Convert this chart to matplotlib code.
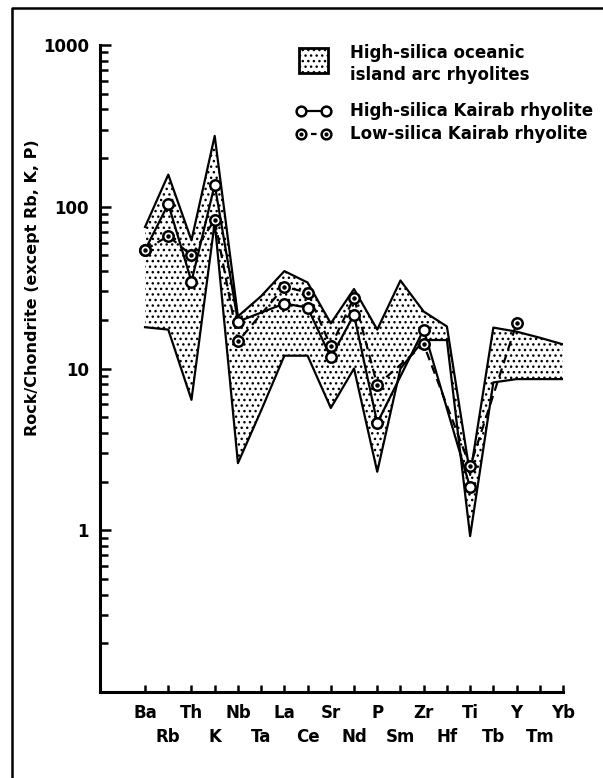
import numpy as np
import matplotlib.pyplot as plt
from matplotlib.lines import Line2D
from matplotlib.patches import Rectangle

plt.rcParams['font.family'] = 'DejaVu Sans'
plt.rcParams['font.weight'] = 'bold'
plt.rcParams['hatch.linewidth'] = 1.0

W, H = 603, 778

elements = ["Ba", "Rb", "Th", "K", "Nb", "Ta", "La", "Ce", "Sr", "Nd",
            "P", "Sm", "Zr", "Hf", "Ti", "Tb", "Y", "Tm", "Yb"]

# envelope of high-silica oceanic island arc rhyolites
arc_upper = [75, 158, 62, 274, 21, 28, 40, 34, 19, 31,
             17.4, 35, 22.5, 18.2, 2.2, 17.9, 16.9, 15.5, 14.1]
arc_lower = [18, 17.4, 6.4, 80, 2.6, 5.5, 12, 12, 5.7, 10,
             2.3, 10, 15, 15, 0.92, 8.2, 8.6, 8.6, 8.6]

# Kairab rhyolites (None = not analysed)
high_si = [54, 104, 34.5, 137, 19.5, None, 25.2, 23.8, 11.7, 21.5,
           4.6, None, 17.4, None, 1.84, None, None, None, None]
low_si = [54, 66, 50, 83, 14.7, None, 32, 29.5, 13.7, 27.4,
          7.9, None, 14.1, None, 2.48, None, 19, None, None]

y_ticks = [1, 10, 100, 1000]


def valid(vals):
    xs = [i for i, v in enumerate(vals) if v is not None]
    ys = [v for v in vals if v is not None]
    return xs, ys


def fx(px):
    return px / W


def fy(py):
    return 1 - py / H


fig = plt.figure(figsize=(W / 100, H / 100), dpi=100)
ax = fig.add_axes([fx(100), fy(692), fx(563) - fx(100), fy(45) - fy(692)])

x = np.arange(len(elements))

# stippled field
ax.fill_between(x, arc_lower, arc_upper, facecolor='white', edgecolor='black',
                hatch='...', linewidth=0)
ax.plot(x, arc_upper, color='black', lw=1.6, zorder=2)
ax.plot(x, arc_lower, color='black', lw=1.6, zorder=2)

hx, hy = valid(high_si)
lx, ly = valid(low_si)
ax.plot(hx, hy, color='black', lw=1.6, zorder=3)
ax.plot(lx, ly, color='black', lw=1.6, ls=(0, (4, 2.5)), zorder=3)
ax.plot(hx, hy, 'o', ms=7.5, mfc='white', mec='black', mew=1.8, zorder=4)
ax.plot(lx, ly, 'o', ms=7.5, mfc='white', mec='black', mew=1.8, zorder=5)
ax.plot(lx, ly, 'o', ms=2.2, mfc='black', mec='black', zorder=6)

ax.set_yscale('log')
ax.set_ylim(0.1, 1000)
ax.set_xlim(-1.94, 18)
ax.set_yticks(y_ticks)
ax.set_yticklabels([str(t) for t in y_ticks])

# element names alternate between two rows: even ones as major, odd ones as minor ticks
ax.set_xticks(x[::2])
ax.set_xticklabels(elements[::2])
ax.set_xticks(x[1::2], minor=True)
ax.set_xticklabels(elements[1::2], minor=True)

for s in ['top', 'right']:
    ax.spines[s].set_visible(False)
for s in ['left', 'bottom']:
    ax.spines[s].set_linewidth(2.2)
ax.tick_params(axis='both', which='both', direction='in', width=1.8, labelsize=12)
ax.tick_params(axis='y', which='major', length=8, pad=8)
ax.tick_params(axis='y', which='minor', length=6)
ax.tick_params(axis='x', which='major', length=5, pad=9)
ax.tick_params(axis='x', which='minor', length=5, pad=26)

fig.text(fx(33), fy(288), 'Rock/Chondrite (except Rb, K, P)', rotation=90,
         ha='center', va='center', fontsize=11.5)

# legend
fig.add_artist(Rectangle((fx(299), fy(73)), fx(328) - fx(299), fy(48) - fy(73),
                         transform=fig.transFigure, facecolor='white',
                         edgecolor='black', lw=2, hatch='...'))
fig.text(fx(350), fy(53), 'High-silica oceanic', va='center', fontsize=12)
fig.text(fx(350), fy(75), 'island arc rhyolites', va='center', fontsize=12)
fig.add_artist(Line2D([fx(301), fx(326)], [fy(111), fy(111)], color='black', lw=1.6,
                      marker='o', ms=7, mfc='white', mec='black', mew=1.8))
fig.add_artist(Line2D([fx(301), fx(326)], [fy(134), fy(134)], color='black', lw=1.6,
                      ls=(0, (2.5, 2)), marker='o', ms=7, mfc='white', mec='black', mew=1.8))
fig.add_artist(Line2D([fx(301), fx(326)], [fy(134), fy(134)], lw=0,
                      marker='o', ms=2, mfc='black', mec='black'))
fig.text(fx(350), fy(111), 'High-silica Kairab rhyolite', va='center', fontsize=12)
fig.text(fx(350), fy(134), 'Low-silica Kairab rhyolite', va='center', fontsize=12)

# page frame
fig.add_artist(Line2D([fx(12), fx(12), fx(603)], [fy(778), fy(8), fy(8)],
                      color='black', lw=1.8))

fig.savefig('out.png', dpi=100)
